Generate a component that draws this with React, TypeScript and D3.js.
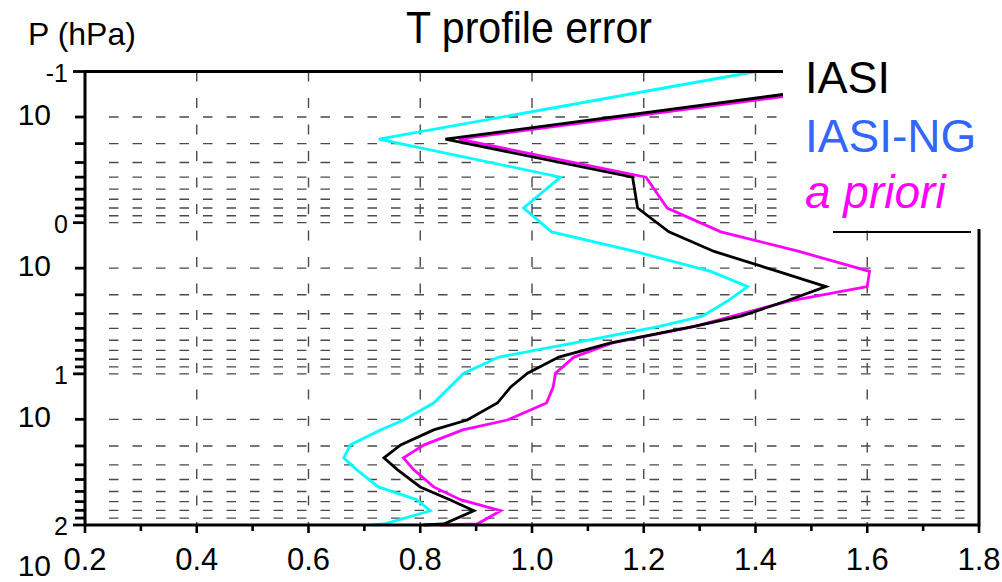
import React from 'react';
import * as d3 from 'd3';

// Pressure levels (hPa) at which the profiles are read
const PRESSURE = [0.1, 0.28, 0.5, 0.8, 1.15, 1.55, 2.1, 2.65, 3.3, 4.15, 4.85, 6.25, 7.75, 9.9, 12.2, 15.6, 20.2, 23.5, 29.5, 36, 43, 56, 68, 80.5, 98.5, 100];
// T profile error (K)
const IASI = [1.76, 0.845, 1.18, 1.189, 1.245, 1.326, 1.44, 1.526, 1.455, 1.374, 1.29, 1.141, 1.048, 0.992, 0.962, 0.938, 0.884, 0.824, 0.765, 0.735, 0.759, 0.8, 0.853, 0.896, 0.842, 0.806];
const IASI_NG = [1.401, 0.726, 1.051, 0.985, 1.035, 1.184, 1.32, 1.386, 1.35, 1.305, 1.228, 1.076, 0.941, 0.878, 0.853, 0.824, 0.77, 0.729, 0.675, 0.663, 0.686, 0.725, 0.794, 0.818, 0.735, 0.714];
const APRIORI = [1.79, 0.869, 1.204, 1.242, 1.338, 1.478, 1.604, 1.6, 1.46, 1.359, 1.292, 1.144, 1.075, 1.042, 1.038, 1.026, 0.956, 0.876, 0.807, 0.77, 0.788, 0.824, 0.872, 0.944, 0.902, 0.836];

const X_MAJOR = [0.2, 0.4, 0.6, 0.8, 1.0, 1.2, 1.4, 1.6, 1.8];
const X_LABELS = ['0.2', '0.4', '0.6', '0.8', '1.0', '1.2', '1.4', '1.6', '1.8'];
const X_MINOR = [0.3, 0.5, 0.7, 0.9, 1.1, 1.3, 1.5, 1.7];
const X_GRID = [0.4, 0.6, 0.8, 1.0, 1.2, 1.4, 1.6];
const DECADES = [0.1, 1, 10, 100];
const DECADE_EXP = ['-1', '0', '1', '2'];
const TITLE = 'T profile error';
const Y_TITLE = 'P (hPa)';
const LEGEND_LABELS = ['IASI', 'IASI-NG', 'a priori'];

const FONT = '"Liberation Sans", Arial, Helvetica, sans-serif';

export default function App() {
  const W = 1002;
  const H = 582;
  const left = 85, right = 979, top = 71.5, bottom = 525;
  const x = d3.scaleLinear().domain([0.2, 1.8]).range([left, right]);
  const y = d3.scaleLog().domain([0.1, 100]).range([top, bottom]);

  const yTicks = y.ticks();
  const yGrid = yTicks.filter((t) => t > 0.1 * 1.0001 && t < 100 * 0.9999);

  const mkLine = (vals: number[]) =>
    d3.line<number>().x((d) => x(d)).y((_, i) => y(PRESSURE[i]))(vals) || '';

  const series = [
    { vals: IASI_NG, color: '#00ffff' },
    { vals: APRIORI, color: '#ff00ff' },
    { vals: IASI, color: '#000000' },
  ];

  const legendX = 783;
  const legendBottom = 229;

  return (
    <svg width={W} height={H} style={{ position: 'absolute', left: 0, top: 0, display: 'block', background: '#fff' }} fontFamily={FONT}>
      <rect x={0} y={0} width={W} height={H} fill="#fff" />
      {/* horizontal dashed grid */}
      {yGrid.map((t, i) => (
        <line key={'hg' + i} x1={left + 24} x2={right} y1={y(t)} y2={y(t)} stroke="#4a4a4a" strokeWidth={1.4} strokeDasharray="9.5 14" />
      ))}
      {/* vertical dashed grid */}
      {X_GRID.map((t, i) => (
        <line key={'vg' + i} x1={x(t)} x2={x(t)} y1={top} y2={bottom} stroke="#4a4a4a" strokeWidth={1.4} strokeDasharray="10 16.5" />
      ))}
      {/* data */}
      {series.map((s, i) => (
        <path key={'s' + i} d={mkLine(s.vals)} fill="none" stroke={s.color} strokeWidth={2.8} strokeLinejoin="miter" />
      ))}
      {/* axes */}
      <line x1={left} x2={right} y1={top} y2={top} stroke="#000" strokeWidth={3} />
      <line x1={left} x2={right} y1={bottom} y2={bottom} stroke="#000" strokeWidth={3} />
      <line x1={left} x2={left} y1={top - 1.5} y2={bottom + 1.5} stroke="#000" strokeWidth={3} />
      <line x1={right} x2={right} y1={top - 1.5} y2={bottom + 1.5} stroke="#000" strokeWidth={3} />
      {/* left ticks */}
      {yTicks.map((t, i) => {
        const isDec = DECADES.some((d) => Math.abs(Math.log10(d) - Math.log10(t)) < 1e-6);
        return <line key={'yt' + i} x1={left - (isDec ? 12 : 10)} x2={left} y1={y(t)} y2={y(t)} stroke="#000" strokeWidth={2.8} />;
      })}
      {/* bottom ticks */}
      {X_MAJOR.map((t, i) => (
        <line key={'xt' + i} x1={x(t)} x2={x(t)} y1={bottom} y2={bottom + 8} stroke="#000" strokeWidth={2.6} />
      ))}
      {X_MINOR.map((t, i) => (
        <line key={'xm' + i} x1={x(t)} x2={x(t)} y1={bottom} y2={bottom + 6} stroke="#000" strokeWidth={2.6} />
      ))}
      {/* x tick labels */}
      {X_MAJOR.map((t, i) => (
        <text key={'xl' + i} x={x(t)} y={570} textAnchor="middle" fontSize={31} fill="#000">{X_LABELS[i]}</text>
      ))}
      {/* y decade labels */}
      {DECADES.map((d, i) => (
        <g key={'yl' + i}>
          <text x={68} y={y(d) + 10} textAnchor="end" fontSize={25} fill="#000">{DECADE_EXP[i]}</text>
          <text x={51} y={Math.min(y(d) + 53, 576)} textAnchor="end" fontSize={30} fill="#000">10</text>
        </g>
      ))}
      {/* titles */}
      <text x={28} y={45} fontSize={32} fill="#000">{Y_TITLE}</text>
      <text x={529} y={43} textAnchor="middle" fontSize={45} textLength={246} lengthAdjust="spacingAndGlyphs" fill="#000">{TITLE}</text>
      {/* legend */}
      <rect x={legendX} y={0} width={W - legendX} height={legendBottom} fill="#fff" />
      <line x1={833} x2={971} y1={232} y2={232} stroke="#000" strokeWidth={2} />
      <text x={805} y={93} fontSize={45} fill="#000">{LEGEND_LABELS[0]}</text>
      <text x={805} y={152} fontSize={46} fill="#3366ff">{LEGEND_LABELS[1]}</text>
      <text x={805} y={208} fontSize={46} fontStyle="italic" fill="#ff00ff">{LEGEND_LABELS[2]}</text>
    </svg>
  );
}
